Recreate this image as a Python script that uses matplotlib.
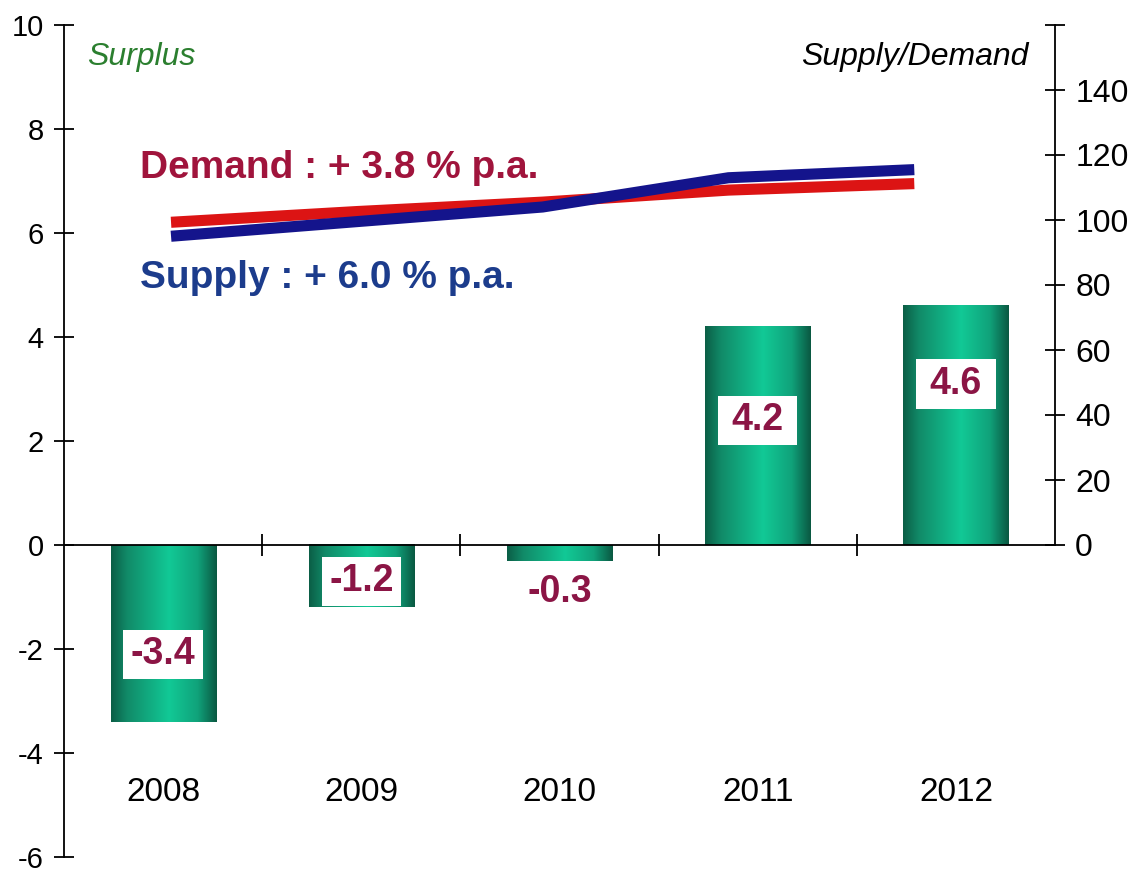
import matplotlib.pyplot as plt
import numpy as np
from matplotlib.colors import LinearSegmentedColormap
from matplotlib.patches import Rectangle

plt.rcParams['font.family'] = ['Liberation Sans', 'DejaVu Sans']
plt.rcParams['axes.unicode_minus'] = False

# data
years = ['2008', '2009', '2010', '2011', '2012']
surplus = [-3.4, -1.2, -0.3, 4.2, 4.6]
surplus_labels = ['-3.4', '-1.2', '-0.3', '4.2', '4.6']
demand = [99.3, 102.6, 105.5, 109.2, 111.2]
supply = [95.0, 99.5, 104.0, 113.0, 115.5]

# label box centres (left-axis units), layout only
label_y = [-2.1, -0.7, -0.9, 2.4, 3.1]

label_col = '#8b1545'
demand_col = '#a0143c'
supply_col = '#1c3c8c'

fig = plt.figure(figsize=(11.43, 8.77), dpi=100)
# -6 at ~857px, 10 at ~25px
ax = fig.add_axes([0.056, 1 - 857 / 877, 0.867, 832 / 877])

x = np.arange(len(years))
width = 0.53
cyl = LinearSegmentedColormap.from_list(
    'cyl', [(0, '#0b5e46'), (0.15, '#118a68'), (0.55, '#12c996'),
            (0.82, '#10a27a'), (1, '#0a5842')])
grad = np.linspace(0, 1, 256).reshape(1, -1)

bars = ax.bar(x, surplus, width=width, color='none', edgecolor='none')
for b in bars:
    x0, y0 = b.get_x(), b.get_y()
    ax.imshow(grad, extent=[x0, x0 + b.get_width(), y0, y0 + b.get_height()],
              cmap=cyl, aspect='auto', zorder=2, origin='lower')

# white label boxes with values
box_w, box_h = 0.40, 0.95
for xi, yl, txt in zip(x, label_y, surplus_labels):
    ax.add_patch(Rectangle((xi - box_w / 2, yl - box_h / 2), box_w, box_h,
                           facecolor='white', edgecolor='none', zorder=3))
    ax.text(xi, yl, txt, ha='center', va='center', fontsize=27,
            fontweight='bold', color=label_col, zorder=4)

ax.set_xlim(-0.5, 4.5)
ax.set_ylim(-6, 10)

ax.spines['top'].set_visible(False)
ax.spines['right'].set_visible(False)
ax.spines['bottom'].set_position(('data', 0))
ax.spines['left'].set_linewidth(1.3)
ax.spines['bottom'].set_linewidth(1.3)

ax.set_yticks(np.arange(-6, 11, 2))
ax.tick_params(axis='y', direction='inout', length=15, width=1.3,
               labelsize=21, pad=7)
ax.set_xticks([])
ax.set_xticks([0.5, 1.5, 2.5, 3.5], minor=True)
ax.tick_params(axis='x', which='minor', direction='inout', length=16,
               width=1.3, labelbottom=False)

for xi, yr in zip(x, years):
    ax.text(xi, -4.76, yr, ha='center', va='center', fontsize=24)

# right axis: supply / demand index
ax2 = ax.twinx()
ax2.set_ylim(-96, 160)
for s in ['left', 'top', 'bottom']:
    ax2.spines[s].set_visible(False)
ax2.spines['right'].set_bounds(0, 160)
ax2.spines['right'].set_linewidth(1.3)
ax2.set_yticks(np.arange(0, 161, 20))
ax2.set_yticklabels([str(v) for v in range(0, 141, 20)] + [''])
ax2.tick_params(axis='y', direction='inout', length=15, width=1.3,
                labelsize=23, pad=7)

line_x = np.linspace(0.04, 3.79, 5)
ax2.plot(line_x, demand, color='#dc1414', lw=8, solid_capstyle='butt', zorder=3)
ax2.plot(line_x, supply, color='#14148c', lw=8, solid_capstyle='butt', zorder=4)

fig.text(140 / 1143, 1 - 178 / 877, 'Demand : + 3.8 % p.a.', fontsize=28,
         fontweight='bold', color=demand_col, va='baseline')
fig.text(140 / 1143, 1 - 288 / 877, 'Supply : + 6.0 % p.a.', fontsize=28,
         fontweight='bold', color=supply_col, va='baseline')

fig.text(87 / 1143, 1 - 65 / 877, 'Surplus', fontsize=23, style='italic',
         color='#2b7f2f', va='baseline')
fig.text(1028 / 1143, 1 - 65 / 877, 'Supply/Demand', fontsize=23,
         style='italic', color='black', va='baseline', ha='right')

fig.savefig('out.png', dpi=100)
